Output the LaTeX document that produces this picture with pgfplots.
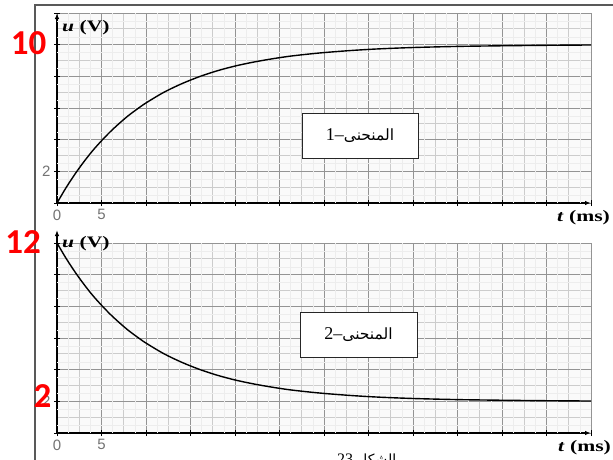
\documentclass[border=0pt]{standalone}
\usepackage{pgfplots}
\pgfplotsset{compat=1.18}
\usetikzlibrary{arrows.meta}
\usepackage{fontspec}
\setmainfont{Liberation Serif}
\newfontfamily\labfont[FakeStretch=1.35]{Liberation Serif}
\newfontfamily\tickfont{Liberation Sans}
\newfontfamily\redfont{Carlito}
\newfontfamily\arabicfont[Script=Arabic]{DejaVu Sans}
\TeXXeTstate=1

% common look of both u(t) panels: graph paper 0..60 ms by 0..12 V
\pgfplotsset{
  graphpaper/.style={
    scale only axis, width=534pt, height=190pt,
    xmin=0, xmax=60, ymin=0, ymax=12,
    axis lines=left,
    axis line style={black, line width=1.2pt, -{Latex[length=6pt,width=4.5pt]}},
    axis background/.style={fill=black!2},
    xtick={0,5,...,60}, ytick={0,2,...,12},
    xticklabels={0,5,,,,,,,,,,,},
    yticklabels={,2,,,,,},
    minor x tick num=1, minor y tick num=1,
    grid=both,
    major grid style={black!42, line width=0.8pt},
    minor grid style={black!20, line width=0.7pt},
    extra x ticks={1.25,3.75,...,58.75},
    extra y ticks={0.5,1.5,...,11.5},
    extra x tick labels={}, extra y tick labels={},
    extra tick style={grid=major, major grid style={black!7, line width=0.5pt}, major tick length=0pt},
    tick align=center, major tick length=6pt, minor tick length=0pt,
    tick style={black, line width=1pt},
    tick label style={font=\tickfont\fontsize{15}{15}\selectfont, text=black!55},
    clip=false,
  },
  curve/.style={black, line width=1.4pt, smooth},
}

\begin{document}
\begin{tikzpicture}
\useasboundingbox (0,0) rectangle (613pt,-459pt);

% outer frame of the figure
\draw[black!65, line width=1.8pt] (35pt,-480pt) -- (35pt,-5pt) -- (630pt,-5pt);

% curve 1: charging
\begin{axis}[graphpaper, at={(57pt,-203pt)}, anchor=south west]
\addplot[curve] coordinates {
 (0,0) (1,0.95) (2,1.81) (3,2.59) (4,3.30) (5,3.93) (6,4.51) (7,5.03)
 (8,5.51) (9,5.93) (10,6.32) (12,6.99) (14,7.53) (16,7.98) (18,8.35)
 (20,8.65) (22,8.89) (24,9.09) (26,9.26) (28,9.39) (30,9.50) (33,9.63)
 (36,9.73) (40,9.82) (45,9.89) (50,9.93) (55,9.96) (60,9.98)
};
\end{axis}

% curve 2: decay towards 2 V
\begin{axis}[graphpaper, at={(57pt,-433pt)}, anchor=south west,
  y axis line style={shorten >=-13pt}]
\addplot[curve] coordinates {
 (0,12) (1,11.05) (2,10.19) (3,9.41) (4,8.70) (5,8.07) (6,7.49) (7,6.97)
 (8,6.49) (9,6.07) (10,5.68) (12,5.01) (14,4.47) (16,4.02) (18,3.65)
 (20,3.35) (22,3.11) (24,2.91) (26,2.74) (28,2.61) (30,2.50) (33,2.37)
 (36,2.27) (40,2.18) (45,2.11) (50,2.07) (55,2.04) (60,2.02)
};
\end{axis}

% axis names
\node[anchor=base west, inner sep=0pt] at (62pt,-31pt)
  {\labfont\bfseries\fontsize{16}{16}\selectfont\textit{u} (V)};
\node[anchor=base west, inner sep=0pt] at (62pt,-247pt)
  {\labfont\bfseries\fontsize{16}{16}\selectfont\textit{u} (V)};
\node[anchor=base west, inner sep=0pt] at (557pt,-221.5pt)
  {\labfont\bfseries\fontsize{16}{16}\selectfont\textit{t} (ms)};
\node[anchor=base west, inner sep=0pt] at (558pt,-451.5pt)
  {\labfont\bfseries\fontsize{16}{16}\selectfont\textit{t} (ms)};

% curve names
\node[draw=black!85, line width=1pt, fill=white, minimum width=116pt,
  minimum height=45pt, inner sep=0pt] at (360pt,-135.5pt)
  {\fontsize{18}{18}\selectfont 1–{\arabicfont\fontsize{15.5}{15.5}\selectfont\beginR المنحنى\endR}};
\node[draw=black!85, line width=1pt, fill=white, minimum width=117pt,
  minimum height=45pt, inner sep=0pt] at (358.5pt,-334.5pt)
  {\fontsize{18}{18}\selectfont 2–{\arabicfont\fontsize{15.5}{15.5}\selectfont\beginR المنحنى\endR}};

% figure caption (runs past the lower edge)
\node[anchor=base west, inner sep=0pt] at (337pt,-464pt)
  {\fontsize{16}{16}\selectfont 23\ {\arabicfont\fontsize{14}{14}\selectfont\beginR الشكل\endR}};

% red value marks
\node[text=red, inner sep=0pt] at (28.5pt,-43.5pt) {\redfont\bfseries\fontsize{35}{35}\selectfont 10};
\node[text=red, inner sep=0pt] at (23pt,-242.5pt) {\redfont\bfseries\fontsize{35}{35}\selectfont 12};
\node[text=red, inner sep=0pt] at (42.5pt,-396.5pt) {\redfont\bfseries\fontsize{35}{35}\selectfont 2};
\end{tikzpicture}
\end{document}
